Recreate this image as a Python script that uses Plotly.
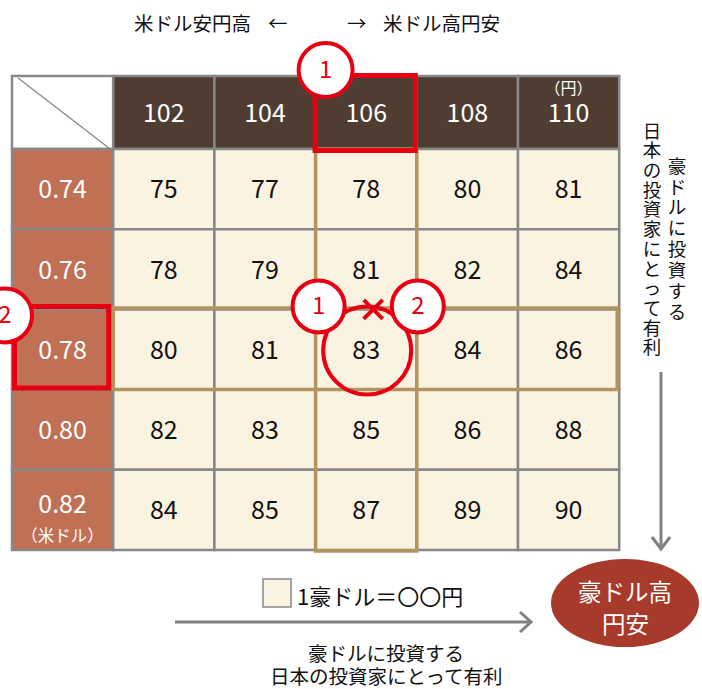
import plotly.graph_objects as go

# ---- data ----
usd_jpy = [102, 104, 106, 108, 110]            # column headers (円)
aud_usd = [0.74, 0.76, 0.78, 0.80, 0.82]       # row headers (米ドル)
aud_jpy = [
    [75, 77, 78, 80, 81],
    [78, 79, 81, 82, 84],
    [80, 81, 83, 84, 86],
    [82, 83, 85, 86, 88],
    [84, 85, 87, 89, 90],
]
hl_col = 2   # 106
hl_row = 2   # 0.78
top_labels = ["米ドル安円高", "←", "→", "米ドル高円安"]
legend_label = "1豪ドル＝〇〇円"
bottom_lines = ["豪ドルに投資する", "日本の投資家にとって有利"]
vert_right = "豪ドルに投資する"
vert_left = "日本の投資家にとって有利"
bubble_lines = ["豪ドル高", "円安"]

# ---- layout constants ----
W, H = 702, 689
X0, CW = 12, 101.2
Y0, HH, RH = 76, 73, 80.2
C_HEAD = "#4f3d31"
C_ROWH = "#c07054"
C_CELL = "#fbf3e1"
C_GRID = "#888888"
C_TAN = "#b39461"
C_RED = "#e60012"
C_BUB = "#a83a2b"
C_ARROW = "#808080"
C_TXT = "#111111"
JP = "Noto Sans CJK JP"


def cl(i):  # left x of column i (0 = header column)
    return X0 + i * CW


def rt(j):  # top y of row j (0 = header row)
    return Y0 if j == 0 else Y0 + HH + (j - 1) * RH


def cx(i):
    return (cl(i) + cl(i + 1)) / 2


def cy(j):
    return (rt(j) + rt(j + 1)) / 2


shapes = []
ncol, nrow = len(usd_jpy) + 1, len(aud_usd) + 1
for j in range(nrow):
    for i in range(ncol):
        if j == 0 and i == 0:
            fill = "white"
        elif j == 0:
            fill = C_HEAD
        elif i == 0:
            fill = C_ROWH
        else:
            fill = C_CELL
        shapes.append(dict(type="rect", x0=cl(i), x1=cl(i + 1), y0=rt(j), y1=rt(j + 1),
                           fillcolor=fill, line=dict(color=C_GRID, width=2.5), layer="below"))
# diagonal in corner
shapes.append(dict(type="line", x0=cl(0) + 6, y0=rt(0) + 2, x1=cl(1) - 3, y1=rt(1),
                   line=dict(color=C_GRID, width=1.3), layer="below"))
# tan highlights (column 106 and row 0.78)
shapes.append(dict(type="rect", x0=cl(hl_col + 1), x1=cl(hl_col + 2), y0=rt(1), y1=rt(nrow) + 1,
                   line=dict(color=C_TAN, width=3.5), layer="below"))
shapes.append(dict(type="rect", x0=cl(1), x1=cl(ncol) - 2, y0=rt(hl_row + 1) - 1.5, y1=rt(hl_row + 2),
                   line=dict(color=C_TAN, width=3.5), layer="below"))
# red rectangles
shapes.append(dict(type="rect", x0=cl(hl_col + 1) - 0.5, x1=cl(hl_col + 2) - 1.5,
                   y0=rt(0) - 0.5, y1=rt(1) + 1.5,
                   line=dict(color=C_RED, width=5), layer="below"))
shapes.append(dict(type="rect", x0=cl(0) + 2.5, x1=cl(1) - 4.5,
                   y0=rt(hl_row + 1) - 3, y1=rt(hl_row + 2) - 1.5,
                   line=dict(color=C_RED, width=5), layer="below"))
# big circle around the crossing value
bcx, bcy, br = cx(hl_col + 1) + 1, cy(hl_row + 1) + 1, 44
shapes.append(dict(type="circle", x0=bcx - br, x1=bcx + br, y0=bcy - br, y1=bcy + br,
                   line=dict(color=C_RED, width=4), layer="below"))

# numbered badges
badges = [
    ("1", cl(hl_col + 1) + 10, rt(0) - 6, 27),
    ("2", cl(0) - 7, rt(hl_row + 1) + 6, 27),
    ("1", cl(hl_col + 1) + 3, rt(hl_row + 1) - 3, 26),
    ("2", cl(hl_col + 2) + 1, rt(hl_row + 1) - 3, 26),
]
for _, bx, by, r in badges:
    shapes.append(dict(type="circle", x0=bx - r, x1=bx + r, y0=by - r, y1=by + r,
                       fillcolor="white", line=dict(color=C_RED, width=4), layer="below"))

# bubble ellipse
shapes.append(dict(type="circle", x0=551, x1=699, y0=559, y1=647,
                   fillcolor=C_BUB, line=dict(color=C_BUB, width=0), layer="below"))
# legend swatch
shapes.append(dict(type="rect", x0=263, x1=291, y0=579, y1=607,
                   fillcolor=C_CELL, line=dict(color=C_GRID, width=1.5), layer="below"))

# arrows
def arrow(x0, y0, x1, y1, horiz):
    shapes.append(dict(type="line", x0=x0, y0=y0, x1=x1, y1=y1,
                       line=dict(color=C_ARROW, width=3), layer="below"))
    if horiz:
        p = f"M {x1-11},{y1-10} L {x1},{y1} L {x1-11},{y1+10}"
    else:
        p = f"M {x1-9},{y1-12} L {x1},{y1} L {x1+9},{y1-12}"
    shapes.append(dict(type="path", path=p, line=dict(color=C_ARROW, width=3), layer="below"))

arrow(175, 622, 531, 622, True)
arrow(661, 372, 661, 549, False)

fig = go.Figure()

def text_trace(x, y, text, size, color):
    fig.add_trace(go.Scatter(x=x, y=y, text=text, mode="text",
                             textfont=dict(family=JP, size=size, color=color), hoverinfo="skip"))

# column headers
text_trace([cx(i + 1) for i in range(len(usd_jpy))], [cy(0) + 3] * len(usd_jpy),
           [str(v) for v in usd_jpy], 25, "white")
text_trace([cx(len(usd_jpy))], [rt(0) + 14], ["（円）"], 16, "white")
# row headers
text_trace([cx(0)] * len(aud_usd),
           [cy(j + 1) + (-3 if j == len(aud_usd) - 1 else 3) for j in range(len(aud_usd))],
           [f"{v:.2f}" for v in aud_usd], 25, "white")
text_trace([cx(0)], [rt(nrow) - 12], ["（米ドル）"], 16.5, "white")
# values
xs, ys, ts = [], [], []
for j, row in enumerate(aud_jpy):
    for i, v in enumerate(row):
        xs.append(cx(i + 1))
        ys.append(cy(j + 1) + 3)
        ts.append(str(v))
text_trace(xs, ys, ts, 25, C_TXT)
# badge numbers
text_trace([b[1] for b in badges], [b[2] + 2 for b in badges], [b[0] for b in badges], 24, C_RED)
# cross mark
fig.add_trace(go.Scatter(x=[(badges[2][1] + badges[3][1]) / 2 + 5], y=[badges[2][2] + 3],
                         mode="markers",
                         marker=dict(symbol="x-thin", size=19, line=dict(color=C_RED, width=4)),
                         hoverinfo="skip"))
# vertical texts
text_trace([652] * len(vert_left), [133 + k * 19.7 for k in range(len(vert_left))],
           list(vert_left), 18.5, C_TXT)
text_trace([677] * len(vert_right), [168 + k * 20.9 for k in range(len(vert_right))],
           list(vert_right), 18.5, C_TXT)

annotations = [
    dict(x=192, y=22, text=top_labels[0], showarrow=False, font=dict(family=JP, size=19.5, color=C_TXT)),
    dict(x=278, y=22, text=top_labels[1], showarrow=False, font=dict(family=JP, size=19.5, color=C_TXT)),
    dict(x=357, y=22, text=top_labels[2], showarrow=False, font=dict(family=JP, size=19.5, color=C_TXT)),
    dict(x=441, y=22, text=top_labels[3], showarrow=False, font=dict(family=JP, size=19.5, color=C_TXT)),
    dict(x=295, y=595, text=legend_label, showarrow=False, xanchor="left",
         font=dict(family=JP, size=22, color=C_TXT)),
    dict(x=386, y=652, text=bottom_lines[0], showarrow=False, font=dict(family=JP, size=19.5, color=C_TXT)),
    dict(x=386, y=675, text=bottom_lines[1], showarrow=False, font=dict(family=JP, size=19.5, color=C_TXT)),
    dict(x=625, y=591, text=bubble_lines[0], showarrow=False, font=dict(family=JP, size=23.5, color="white")),
    dict(x=625, y=623, text=bubble_lines[1], showarrow=False, font=dict(family=JP, size=23.5, color="white")),
]

fig.update_layout(
    width=W, height=H, margin=dict(l=0, r=0, t=0, b=0),
    paper_bgcolor="white", plot_bgcolor="white", showlegend=False,
    shapes=shapes, annotations=annotations,
    xaxis=dict(range=[0, W], visible=False, fixedrange=True),
    yaxis=dict(range=[H, 0], visible=False, fixedrange=True),
)
fig.write_html("out.html")
